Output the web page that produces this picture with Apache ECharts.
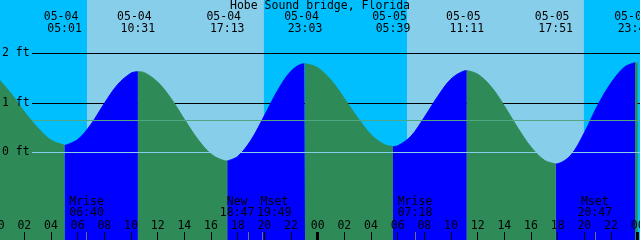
<!DOCTYPE html>
<html><head><meta charset="utf-8">
<script src="https://cdn.jsdelivr.net/npm/echarts@6/dist/echarts.min.js"></script>
<style>html,body{margin:0;padding:0;background:#00BFFF;}#c{width:640px;height:240px;}</style>
</head><body><div id="c"></div>
<script>
// ---------- data ----------
const chartTitle = 'Hobe Sound bridge, Florida';
const firstDay = 4; // May 4 = hour 0
const extremeDates = ['05-04', '05-04', '05-04', '05-04', '05-05', '05-05', '05-05', '05-05'];
const extremeTimes = ['05:01', '10:31', '17:13', '23:03', '05:39', '11:11', '17:51', '23:48'];
const extremeFeet  = [0.14, 1.63, -0.17, 1.79, 0.12, 1.65, -0.23, 1.81];
const extremeKinds = ['low', 'high', 'low', 'high', 'low', 'high', 'low', 'high'];
// tide height, every hour from 05-04 00:00
const curveHours = [0,1,2,3,4,5,6,7,8,9,10,11,12,13,14,15,16,17,18,19,20,21,22,23,24,
  25,26,27,28,29,30,31,32,33,34,35,36,37,38,39,40,41,42,43,44,45,46,47,48];
const curveFeet = [1.50,1.19,0.82,0.50,0.25,0.145,0.26,0.57,0.99,1.37,1.60,1.61,1.42,1.09,0.67,0.27,-0.03,-0.165,
  -0.08,0.25,0.74,1.25,1.64,1.79,1.71,1.46,1.09,0.70,0.36,0.16,0.135,0.33,0.71,1.13,1.48,1.645,
  1.58,1.33,0.94,0.50,0.11,-0.155,-0.227,-0.05,0.40,0.95,1.40,1.72,1.80];
const sunriseTimes = ['05-04 06:42', '05-05 06:42'];
const sunsetTimes  = ['05-04 19:58', '05-05 19:58'];
const moonNames = ['Mrise', 'New', 'Mset', 'Mrise', 'Mset'];
const moonDates = ['05-04', '05-04', '05-04', '05-05', '05-05'];
const moonTimes = ['06:40', '18:47', '19:49', '07:18', '20:47'];
const meanLevelFeet = 0.65;
const heightTickStep = 1;
const hourTickStep = 2;

// ---------- helpers ----------
function toHours(date, time) {
  const day = parseInt(date.split('-')[1], 10) - firstDay;
  const [hh, mm] = time.split(':').map(Number);
  return day * 24 + hh + mm / 60;
}
const extremeH = extremeTimes.map((t, i) => toHours(extremeDates[i], t));
const moonH = moonTimes.map((t, i) => toHours(moonDates[i], t));
const spanH = 48;

// merge samples and extremes
const pts = curveHours.map((h, i) => [h, curveFeet[i]]);
extremeH.forEach((h, i) => pts.push([h, extremeFeet[i]]));
pts.sort((a, b) => a[0] - b[0]);
const bounds = [0, ...extremeH, spanH];
const rising = [], falling = [];
for (let k = 0; k < bounds.length - 1; k++) {
  const a = bounds[k], b = bounds[k + 1];
  const seg = pts.filter(p => p[0] >= a - 1e-9 && p[0] <= b + 1e-9);
  const isRising = k === 0 ? extremeKinds[0] === 'high' : extremeKinds[k - 1] === 'low';
  const target = isRising ? rising : falling;
  if (target.length) target.push(null);
  seg.forEach(p => target.push(p));
}

// layout
const pxPerFt = 49.6, zeroPx = 152.5, H = 240;
const yMin = -(H - zeroPx) / pxPerFt, yMax = zeroPx / pxPerFt;
const dayData = [];
sunriseTimes.forEach((s, i) => {
  const [d1, t1] = s.split(' '); const [d2, t2] = sunsetTimes[i].split(' ');
  if (dayData.length) dayData.push(null);
  dayData.push([toHours(d1, t1), yMax], [toHours(d2, t2), yMax]);
});

// moon label shifting when events are close
const moonStyle = moonH.map(() => 'c');
for (let i = 0; i < moonH.length - 1; i++) {
  if (moonH[i + 1] - moonH[i] < 2) { moonStyle[i] = 'l'; moonStyle[i + 1] = 'r'; }
}

const FONT = 'DejaVu Sans Mono', FS = 11.5;
const txt = { fontFamily: FONT, fontSize: FS, color: '#000' };
const pad2 = n => String(n).padStart(2, '0');
const noLine = { show: false, onZero: false };

const chart = echarts.init(document.getElementById('c'), null, { renderer: 'canvas' });
chart.setOption({
  animation: false,
  backgroundColor: '#00BFFF',
  title: { text: chartTitle, left: 'center', top: 0, padding: 0,
    textStyle: { ...txt, fontWeight: 'normal', lineHeight: 12 } },
  grid: [
    { left: -2.33, right: 2.33, top: 0, bottom: 0, containLabel: false, outerBoundsMode: 'none' },
    { left: 32, right: 0, top: zeroPx - 2 * pxPerFt, bottom: H - zeroPx, containLabel: false, outerBoundsMode: 'none' }
  ],
  xAxis: [
    { gridIndex: 0, type: 'value', min: 0, max: spanH, interval: hourTickStep, position: 'bottom', z: 10,
      axisLine: noLine, splitLine: { show: false },
      axisTick: { show: true, inside: true, length: 8, lineStyle: { color: '#000', width: 1 } },
      axisLabel: { show: true, inside: true, margin: 8, ...txt, lineHeight: 12,
        formatter: v => pad2(Math.round(v) % 24) } },
    { gridIndex: 0, type: 'value', min: 0, max: spanH, interval: 24, position: 'bottom', z: 11,
      axisLine: noLine, splitLine: { show: false }, axisLabel: { show: false },
      axisTick: { show: true, inside: true, length: 8, lineStyle: { color: '#000', width: 3 } } },
    { gridIndex: 0, type: 'value', min: 0, max: spanH, position: 'bottom', z: 10,
      axisLine: noLine, splitLine: { show: false },
      axisTick: { show: true, inside: true, length: 8, customValues: moonH, lineStyle: { color: '#707070', width: 1 } },
      axisLabel: { show: true, inside: true, margin: 21, customValues: moonH, ...txt, lineHeight: 11.5,
        formatter: v => {
          const i = moonH.findIndex(h => Math.abs(h - v) < 1e-6);
          if (i < 0) return '';
          const s = moonStyle[i];
          return '{' + s + '|' + moonNames[i] + '}\n{' + s + '|' + moonTimes[i] + '}';
        },
        rich: {
          c: { ...txt, lineHeight: 11.5 },
          l: { ...txt, lineHeight: 11.5, padding: [0, 22, 0, 0] },
          r: { ...txt, lineHeight: 11.5, padding: [0, 0, 0, 25] }
        } } },
    { gridIndex: 0, type: 'value', min: 0, max: spanH, position: 'top', z: 10,
      axisLine: noLine, splitLine: { show: false }, axisTick: { show: false },
      axisLabel: { show: true, inside: true, margin: 11, customValues: extremeH, ...txt, lineHeight: 12,
        formatter: v => {
          const i = extremeH.findIndex(h => Math.abs(h - v) < 1e-6);
          if (i < 0) return '';
          return '{d|' + extremeDates[i] + '}\n{t|' + extremeTimes[i] + '}';
        },
        rich: {
          d: { ...txt, lineHeight: 12, padding: [0, 7, 0, 0] },
          t: { ...txt, lineHeight: 12 }
        } } },
    { gridIndex: 1, type: 'value', min: 0, max: 1, show: false, axisLine: noLine }
  ],
  yAxis: [
    { gridIndex: 0, type: 'value', min: yMin, max: yMax, show: false, axisLine: noLine },
    { gridIndex: 1, type: 'value', min: 0, max: 2, interval: heightTickStep, position: 'left', z: 1,
      axisLine: noLine, axisTick: { show: false }, axisLabel: { show: false },
      splitLine: { show: true, showMinLine: false, lineStyle: { color: '#000', width: 1 } } },
    { gridIndex: 1, type: 'value', min: 0, max: 2, interval: heightTickStep, position: 'left', z: 10,
      axisLine: noLine, axisTick: { show: false }, splitLine: { show: false },
      axisLabel: { show: true, align: 'left', margin: 30, ...txt, formatter: v => v + ' ft' } }
  ],
  series: [
    { type: 'line', xAxisIndex: 0, yAxisIndex: 0, data: dayData, symbol: 'none', silent: true, z: 0,
      lineStyle: { width: 0, color: '#87CEEB' }, areaStyle: { color: '#87CEEB', opacity: 1, origin: 'start' } },
    { type: 'line', xAxisIndex: 0, yAxisIndex: 0, data: rising, symbol: 'none', smooth: 0.35, silent: true, z: 2,
      lineStyle: { width: 1, color: '#0000FF' }, areaStyle: { color: '#0000FF', opacity: 1, origin: 'start' } },
    { type: 'line', xAxisIndex: 0, yAxisIndex: 0, data: falling, symbol: 'none', smooth: 0.35, silent: true, z: 2,
      lineStyle: { width: 1, color: '#2E8B57' }, areaStyle: { color: '#2E8B57', opacity: 1, origin: 'start' } },
    { type: 'line', xAxisIndex: 4, yAxisIndex: 1, data: [], silent: true, z: 5, clip: false,
      markLine: { symbol: 'none', silent: true, animation: false, label: { show: false },
        lineStyle: { type: 'solid', width: 1 },
        data: [
          { yAxis: 0, lineStyle: { color: '#87CEEB', type: 'solid', width: 1 } },
          { yAxis: meanLevelFeet, lineStyle: { color: '#4FA882', type: 'solid', width: 1 } }
        ] } }
  ]
});
</script></body></html>
